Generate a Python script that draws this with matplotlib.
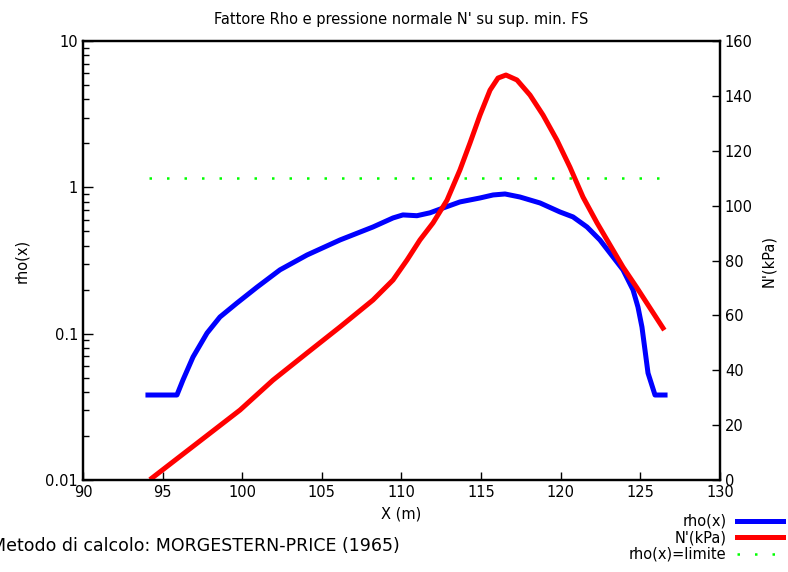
import numpy as np
import matplotlib.pyplot as plt

plt.rcParams['font.family'] = ['DejaVu Sans']

# ---- dati ----
x_rho = [94.08, 95.9, 96.28, 96.91, 97.79, 98.6, 99.67, 100.93, 102.37, 104.07,
         106.14, 108.21, 109.47, 110.09, 110.97, 111.79, 112.42, 113.67, 114.93,
         115.75, 116.5, 117.44, 118.7, 119.95, 120.77, 121.65, 122.46, 123.91,
         124.54, 124.85, 125.1, 125.29, 125.48, 125.92, 126.55]
rho = [0.0381, 0.0381, 0.0483, 0.0693, 0.101, 0.130, 0.162, 0.208, 0.273, 0.345,
       0.437, 0.536, 0.618, 0.648, 0.64, 0.67, 0.71, 0.795, 0.846,
       0.887, 0.901, 0.859, 0.782, 0.679, 0.628, 0.536, 0.437, 0.273,
       0.199, 0.152, 0.111, 0.0774, 0.0538, 0.0381, 0.0381]

x_N = [94.33, 99.86, 101.93, 104.07, 106.14, 108.21, 109.47, 110.35, 111.16,
       111.98, 112.86, 113.67, 114.3, 114.93, 115.56, 116.06, 116.56, 117.25,
       118.07, 118.89, 119.76, 120.58, 121.4, 122.28, 123.91, 124.79, 126.42]
N = [0.7, 25.5, 36.4, 46.3, 55.8, 65.6, 72.9, 80.2, 87.5,
     93.7, 102, 113, 122.8, 133, 142.1, 146.5, 147.6, 145.8,
     140.3, 133, 123.9, 114, 103.1, 93.7, 77.6, 70, 55.4]

x_lim = [94.15, 126.4]
rho_lim = [1.16, 1.16]

fig = plt.figure(figsize=(7.88, 5.72), dpi=100)
ax = fig.add_axes([0.1053, 0.1608, 0.8084, 0.7675])
ax2 = ax.twinx()

l1, = ax.plot(x_rho, rho, color='#0000ff', lw=3.6, solid_joinstyle='round')
l3, = ax.plot(x_lim, rho_lim, color='#00ff00', lw=1.8, linestyle=(0, (1, 6)))
l2, = ax2.plot(x_N, N, color='#ff0000', lw=3.6, solid_joinstyle='round')

ax.set_yscale('log')
ax.set_ylim(0.01, 10)
ax.set_xlim(90, 130)
ax.set_xticks(np.arange(90, 131, 5))
ax2.set_ylim(0, 160)
ax2.set_yticks(np.arange(0, 161, 20))

for a in (ax, ax2):
    for s in a.spines.values():
        s.set_linewidth(1.6)
ax.tick_params(axis='both', which='both', direction='in', labelsize=10.5)
ax.tick_params(axis='x', top=False, length=6, width=1)
ax.tick_params(axis='y', which='major', length=7, width=1)
ax.tick_params(axis='y', which='minor', length=4, width=1)
ax2.tick_params(axis='y', direction='in', length=6, width=1, labelsize=10.5)
ax.set_yticklabels([], minor=True)
ax.yaxis.set_major_formatter(plt.FuncFormatter(lambda v, p: f'{v:g}'))

ax.set_title("Fattore Rho e pressione normale N' su sup. min. FS", fontsize=10.5, pad=12)
ax.set_xlabel('X (m)', fontsize=10.5, labelpad=5)
ax.set_ylabel('rho(x)', fontsize=10.5, labelpad=12)
ax2.set_ylabel("N'(kPa)", fontsize=10.5, labelpad=6)

fig.text(-0.012, 0.037, 'Metodo di calcolo: MORGESTERN-PRICE (1965)', fontsize=12.5)

fig.legend([l1, l2, l3], ['rho(x)', "N'(kPa)", 'rho(x)=limite'],
           loc='lower right', bbox_to_anchor=(0.994, 0.018), frameon=False,
           borderaxespad=0, borderpad=0,
           markerfirst=False, labelspacing=0.1, handlelength=3.2,
           handletextpad=0.7, fontsize=10.5)

fig.savefig('out.png', dpi=100)
